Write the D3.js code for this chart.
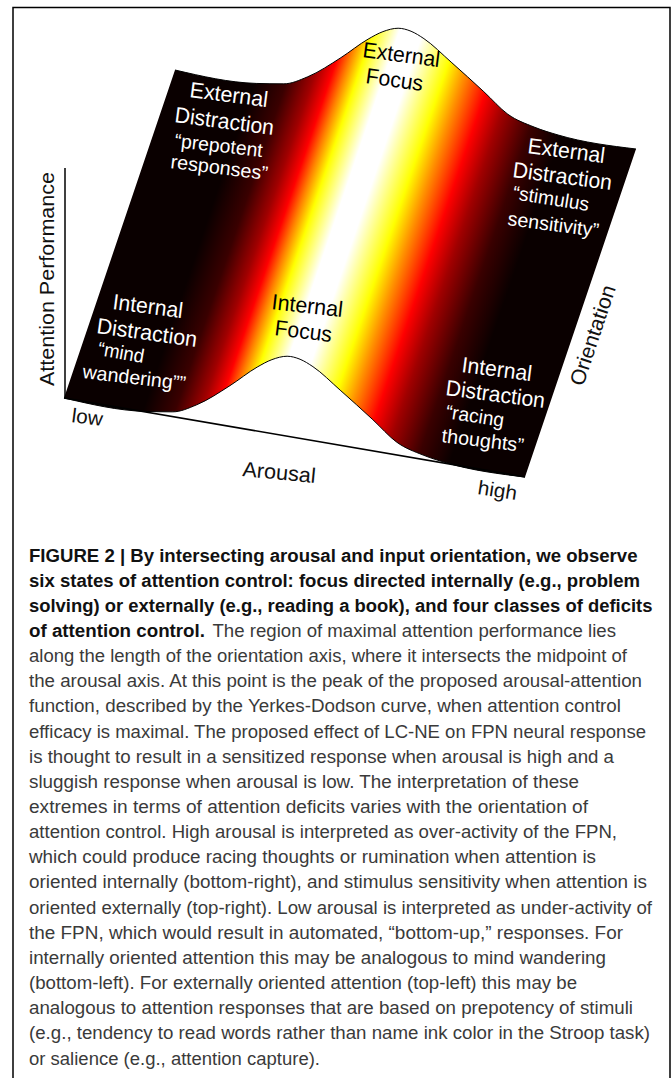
<!DOCTYPE html>
<html>
<head>
<meta charset="utf-8">
<script src="https://cdn.jsdelivr.net/npm/d3@7"></script>
<style>
  html, body { margin: 0; padding: 0; background: #fff; }
  svg { display: block; }
  text { font-family: "Liberation Sans", Arial, sans-serif; }
</style>
</head>
<body>
<div id="svg-area"></div>
<script>
// values
const arousal = [0, 0.176, 0.236, 0.288, 0.36, 0.419, 0.451, 0.484, 0.512, 0.54, 0.599, 0.67, 0.722, 0.779, 0.831, 1];
const performance_ = [0, 0.6, 6, 20, 51, 80, 92.5, 100, 99, 92.5, 69, 39, 16, 5.6, 0.8, 0];
const orientation = [0, 1];

// heat colours across the arousal axis
const heatArousal = [0, 0.18, 0.25, 0.306, 0.343, 0.371, 0.401, 0.458, 0.51, 0.588, 0.631, 0.69, 0.74, 0.813, 0.885, 1];
const heatColors = ['#0a0000', '#0a0000', '#3a0000', '#a00000', '#ff0000', '#ff8000', '#ffff00', '#ffffff', '#ffffff', '#ffff00', '#ff9000', '#ff0000', '#a00000', '#3a0000', '#0a0000', '#0a0000'];

const stateLabels = ['External', 'Distraction', '“prepotent', 'responses”', 'External', 'Focus',
  'External', 'Distraction', '“stimulus', 'sensitivity”', 'Internal', 'Distraction', '“mind', 'wandering””',
  'Internal', 'Focus', 'Internal', 'Distraction', '“racing', 'thoughts”'];
const axisLabels = ['low', 'high', 'Arousal', 'Orientation', 'Attention Performance'];

const captionLines = [
  'FIGURE 2 | By intersecting arousal and input orientation, we observe',
  'six states of attention control: focus directed internally (e.g., problem',
  'solving) or externally (e.g., reading a book), and four classes of deficits',
  'of attention control.',
  'along the length of the orientation axis, where it intersects the midpoint of',
  'the arousal axis. At this point is the peak of the proposed arousal-attention',
  'function, described by the Yerkes-Dodson curve, when attention control',
  'efficacy is maximal. The proposed effect of LC-NE on FPN neural response',
  'is thought to result in a sensitized response when arousal is high and a',
  'sluggish response when arousal is low. The interpretation of these',
  'extremes in terms of attention deficits varies with the orientation of',
  'attention control. High arousal is interpreted as over-activity of the FPN,',
  'which could produce racing thoughts or rumination when attention is',
  'oriented internally (bottom-right), and stimulus sensitivity when attention is',
  'oriented externally (top-right). Low arousal is interpreted as under-activity of',
  'the FPN, which would result in automated, “bottom-up,” responses. For',
  'internally oriented attention this may be analogous to mind wandering',
  '(bottom-left). For externally oriented attention (top-left) this may be',
  'analogous to attention responses that are based on prepotency of stimuli',
  '(e.g., tendency to read words rather than name ink color in the Stroop task)',
  'or salience (e.g., attention capture).'
];
const captionTail = 'The region of maximal attention performance lies';

const width = 671;
const height = 1078;

const svg = d3.select('#svg-area').append('svg').attr('width', width).attr('height', height);

// page frame, open at the bottom
svg.append('path')
  .attr('d', `M13,${height}V7.5H670V${height}`)
  .attr('fill', 'none').attr('stroke', '#000').attr('stroke-width', 1.5);

// the surface is a sheared plane: arousal runs down-right, orientation runs up-right
const xArousal = d3.scaleLinear().domain([0, 1]).range([64, 525]);
const yArousal = d3.scaleLinear().domain([0, 1]).range([398, 477]);
const xOrient = d3.scaleLinear().domain([0, 1]).range([0, 111]);
const yOrient = d3.scaleLinear().domain([0, 1]).range([0, -328]);
const lift = d3.scaleLinear().domain([0, 100]).range([0, 80]);

const ridge = arousal.map((a, i) => ({a, p: performance_[i]}));
const edge = o => d3.line()
  .x(d => xArousal(d.a) + xOrient(o))
  .y(d => yArousal(d.a) + yOrient(o) - lift(d.p))
  .curve(d3.curveMonotoneX);

const front = edge(orientation[0])(ridge);
const back = edge(orientation[1])(ridge);
const backReversed = edge(orientation[1])(ridge.slice().reverse());

// colour bands stay parallel to the orientation axis
const u0 = xArousal(0), u1 = xArousal(1), y0 = yArousal(0);
const nx = 328 / Math.hypot(111, 328), ny = 111 / Math.hypot(111, 328);
const span = (u1 - u0) * nx;
const grad = svg.append('defs').append('linearGradient')
  .attr('id', 'heat').attr('gradientUnits', 'userSpaceOnUse')
  .attr('x1', u0).attr('y1', y0)
  .attr('x2', u0 + nx * span).attr('y2', y0 + ny * span);
grad.selectAll('stop').data(heatArousal).join('stop')
  .attr('offset', d => d)
  .attr('stop-color', (d, i) => heatColors[i]);

svg.append('path')
  .attr('d', front + backReversed.replace(/^M/, 'L') + 'Z')
  .attr('fill', 'url(#heat)');

// black outlines of both ridges
svg.append('path').attr('d', front).attr('fill', 'none').attr('stroke', '#000').attr('stroke-width', 1);
svg.append('path').attr('d', back).attr('fill', 'none').attr('stroke', '#000').attr('stroke-width', 1);

// axes
svg.append('line')
  .attr('x1', xArousal(0)).attr('y1', yArousal(0))
  .attr('x2', xArousal(1)).attr('y2', yArousal(1))
  .attr('stroke', '#000').attr('stroke-width', 1.6);
svg.append('line')
  .attr('x1', xArousal(0) + 1).attr('y1', yArousal(0))
  .attr('x2', xArousal(0) + 1).attr('y2', 168)
  .attr('stroke', '#000').attr('stroke-width', 1.5);

// baseline start and end of every label, from the picture
const stateSpots = [
  [189, 97, 267, 107, 22, '#fff'], [174, 122, 273, 135, 22, '#fff'], [174, 147, 262, 157, 19.5, '#fff'], [170, 168, 267, 180, 19.5, '#fff'],
  [362, 57, 439, 67, 22, '#000'], [365, 83, 422, 91, 22, '#000'],
  [527, 153, 604, 163, 22, '#fff'], [512, 177, 611, 190, 22, '#fff'], [512, 199, 588, 211, 19.5, '#fff'], [507, 225, 598, 237, 19.5, '#fff'],
  [112, 309, 182, 318, 22, '#fff'], [96, 333, 196, 347, 22, '#fff'], [97, 355, 143, 363, 19.5, '#fff'], [82, 378, 185, 390, 19.5, '#fff'],
  [271, 309, 342, 317, 22, '#000'], [274, 335, 331, 342, 22, '#000'],
  [461, 372, 531, 381, 22, '#fff'], [445, 395, 544, 408, 22, '#fff'], [445, 418, 503, 427, 19.5, '#fff'], [441, 442, 523, 452, 19.5, '#fff']
];
const axisSpots = [
  [71, 422, 102, 426, 20, '#111'], [477, 494, 516, 500, 20, '#111'], [242, 476, 315, 483, 21, '#111'],
  [583, 387, 616, 288, 21, '#111'], [54, 386, 54, 172, 21, '#111']
];

const placed = stateLabels.map((t, i) => ({t, s: stateSpots[i]}))
  .concat(axisLabels.map((t, i) => ({t, s: axisSpots[i]})));

svg.append('g').selectAll('text').data(placed).join('text')
  .attr('transform', d => `translate(${d.s[0]},${d.s[1]}) rotate(${Math.atan2(d.s[3] - d.s[1], d.s[2] - d.s[0]) * 180 / Math.PI})`)
  .attr('textLength', d => Math.hypot(d.s[2] - d.s[0], d.s[3] - d.s[1]))
  .attr('lengthAdjust', 'spacingAndGlyphs')
  .attr('font-size', d => d.s[4])
  .attr('fill', d => d.s[5])
  .text(d => d.t);

// caption
const captionLeft = 29;
const captionEnds = [637.5, 640, 652.5, 205, 627, 642, 621, 646, 614, 579, 588, 617, 596, 647, 652, 623, 606, 577, 633, 650, 320];
const lineY = d3.scaleLinear().domain([0, 20]).range([561.5, 1064.5]);
const isBold = i => i < 4;

svg.append('g').selectAll('text').data(captionLines).join('text')
  .attr('x', captionLeft)
  .attr('y', (d, i) => lineY(i))
  .attr('textLength', (d, i) => captionEnds[i] - captionLeft)
  .attr('lengthAdjust', 'spacingAndGlyphs')
  .attr('font-size', 17.5)
  .attr('font-weight', (d, i) => isBold(i) ? 700 : 400)
  .attr('fill', (d, i) => isBold(i) ? '#111' : '#3a3a3a')
  .text(d => d);

svg.append('text')
  .attr('x', 212.5)
  .attr('y', lineY(3))
  .attr('textLength', 616 - 212.5)
  .attr('lengthAdjust', 'spacingAndGlyphs')
  .attr('font-size', 17.5)
  .attr('fill', '#3a3a3a')
  .text(captionTail);
</script>
</body>
</html>
